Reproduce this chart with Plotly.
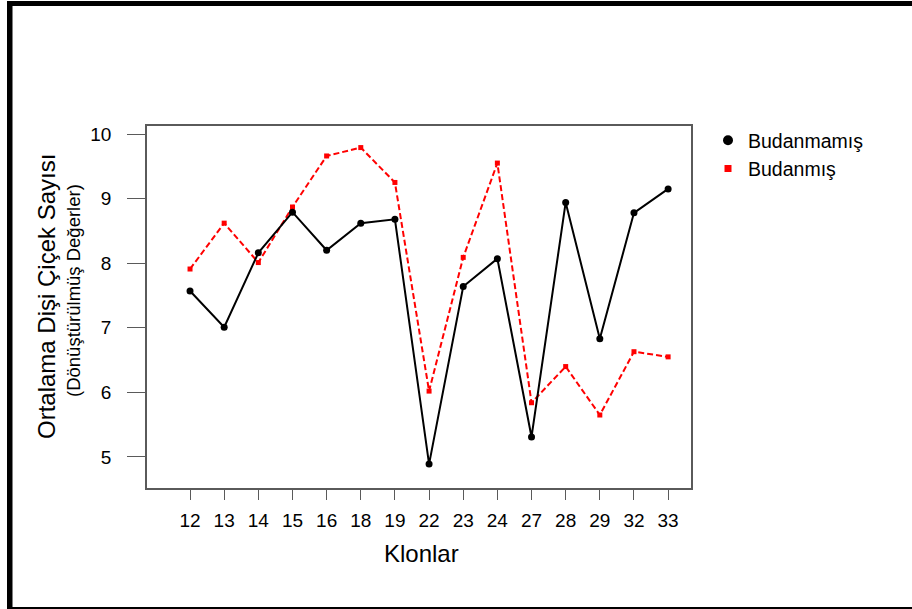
import plotly.graph_objects as go

klonlar = ["12", "13", "14", "15", "16", "18", "19", "22", "23", "24", "27", "28", "29", "32", "33"]
budanmamis = [7.57, 7.01, 8.16, 8.79, 8.20, 8.62, 8.68, 4.89, 7.64, 8.07, 5.31, 8.94, 6.83, 8.78, 9.15]
budanmis = [7.91, 8.62, 8.01, 8.87, 9.66, 9.79, 9.25, 6.02, 8.09, 9.55, 5.84, 6.40, 5.65, 6.63, 6.55]
y_ticks = [5, 6, 7, 8, 9, 10]

W, H = 912, 609
L, R, T, B = 147, 691, 126, 488

def px(x):
    return (x - L) / (R - L)

def py(y):
    return (B - y) / (B - T)

FONT = "Liberation Sans, Arial, sans-serif"
AX = "#5a5a5a"

fig = go.Figure()
xi = list(range(len(klonlar)))
fig.add_trace(go.Scatter(x=xi, y=budanmis, mode="lines+markers",
                         line=dict(color="#ff0000", width=2, dash="6px,3px"),
                         marker=dict(symbol="square", size=5, color="#ff0000"),
                         showlegend=False))
fig.add_trace(go.Scatter(x=xi, y=budanmamis, mode="lines+markers",
                         line=dict(color="black", width=2),
                         marker=dict(symbol="circle", size=7, color="black"),
                         showlegend=False))
fig.add_trace(go.Scatter(x=[None], y=[None], mode="markers", name="Budanmamış",
                         marker=dict(symbol="circle", size=10, color="black")))
fig.add_trace(go.Scatter(x=[None], y=[None], mode="markers", name="Budanmış",
                         marker=dict(symbol="square", size=7, color="#ff0000")))

fig.update_layout(
    width=W, height=H,
    margin=dict(l=L, r=W - R, t=T, b=H - B),
    paper_bgcolor="white", plot_bgcolor="white",
    font=dict(family=FONT, size=19, color="black"),
    showlegend=True,
    legend=dict(x=px(708), y=py(121), xanchor="left", yanchor="top",
                font=dict(size=19.5, color="black"), bgcolor="rgba(0,0,0,0)",
                itemsizing="trace", tracegroupgap=0, itemwidth=30),
    xaxis=dict(tickmode="array", tickvals=xi, ticktext=klonlar,
               range=[-1.26, 14.67], showgrid=False, zeroline=False,
               showline=True, linecolor=AX, linewidth=1.5, mirror=True,
               ticks="outside", ticklen=10, tickcolor=AX, tickwidth=1.2,
               ticklabelstandoff=4,
               tickfont=dict(size=19, color="black")),
    yaxis=dict(tickmode="array", tickvals=y_ticks, ticktext=[str(v) for v in y_ticks],
               range=[4.52, 10.124], showgrid=False, zeroline=False,
               showline=True, linecolor=AX, linewidth=1.5, mirror=True,
               ticks="outside", ticklen=18, tickcolor=AX, tickwidth=1.2,
               ticklabelstandoff=12,
               tickfont=dict(size=19, color="black")),
    annotations=[
        dict(text="Ortalama Dişi Çiçek Sayısı", x=px(46), y=py(297), xref="paper", yref="paper",
             showarrow=False, textangle=-90, font=dict(size=24, color="black"),
             xanchor="center", yanchor="middle"),
        dict(text="(Dönüştürülmüş Değerler)", x=px(73), y=py(291), xref="paper", yref="paper",
             showarrow=False, textangle=-90, font=dict(size=18.5, color="black"),
             xanchor="center", yanchor="middle"),
        dict(text="Klonlar", x=px(421), y=py(553), xref="paper", yref="paper",
             showarrow=False, font=dict(size=24, color="black"),
             xanchor="center", yanchor="middle"),
    ],
    shapes=[
        dict(type="rect", xref="paper", yref="paper", x0=px(7), x1=px(12.5), y0=py(609), y1=py(1),
             fillcolor="black", line=dict(width=0)),
        dict(type="rect", xref="paper", yref="paper", x0=px(7), x1=px(912), y0=py(6), y1=py(1),
             fillcolor="black", line=dict(width=0)),
        dict(type="rect", xref="paper", yref="paper", x0=px(7), x1=px(912), y0=py(609), y1=py(607),
             fillcolor="black", line=dict(width=0)),
    ],
)

fig.write_html("out.html", config={"displayModeBar": False},
               post_script="document.body.style.margin='0';")
